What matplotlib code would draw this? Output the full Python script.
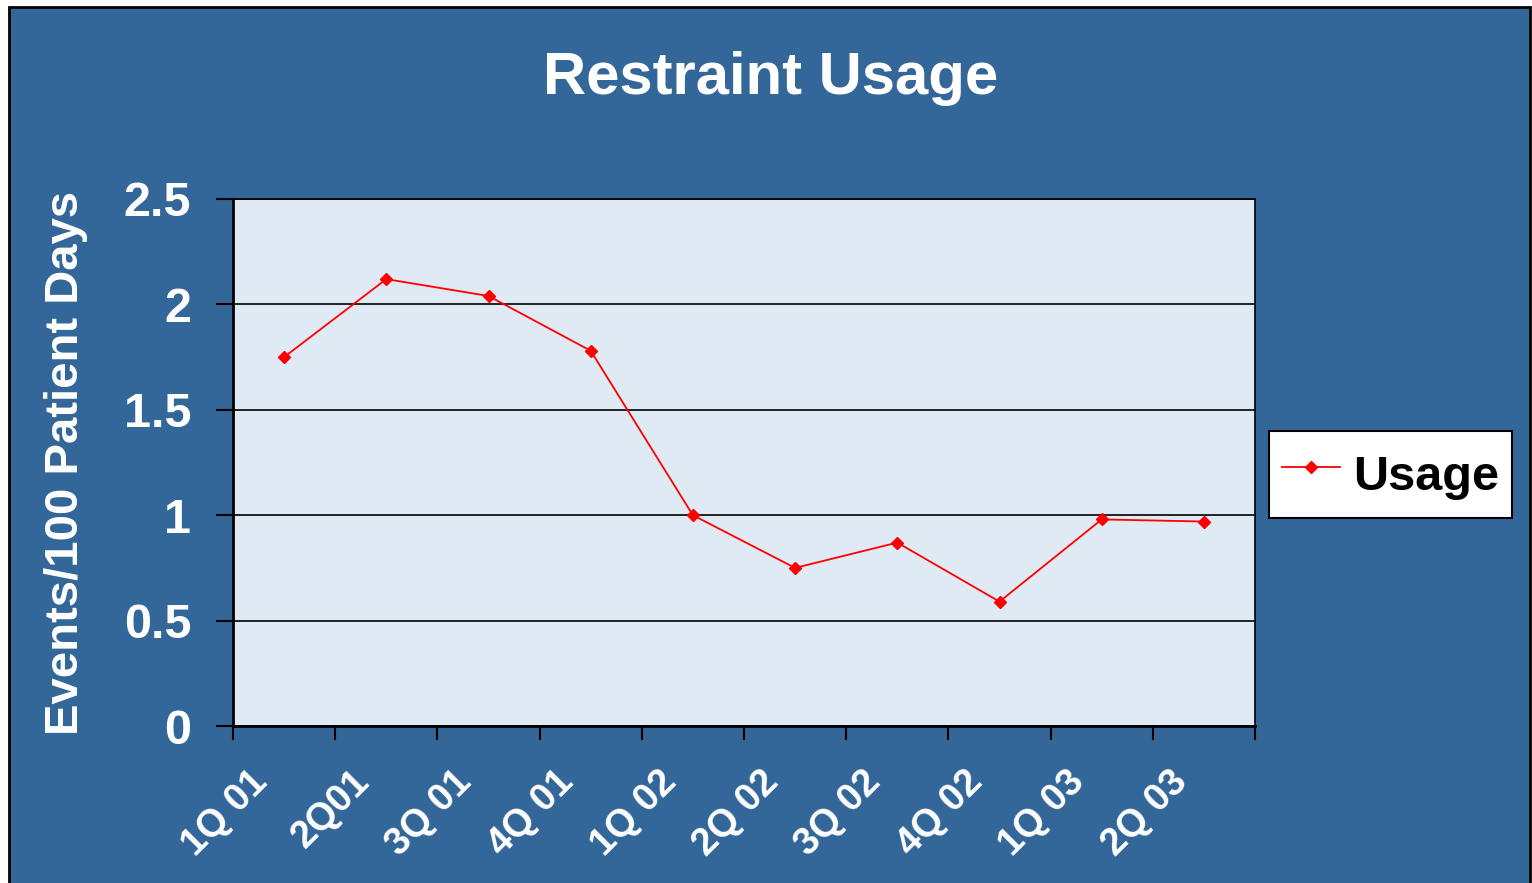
import numpy as np
import matplotlib.pyplot as plt
import matplotlib.transforms as mtransforms
from matplotlib.patches import Rectangle

# Data
quarters = ['1Q 01', '2Q01', '3Q 01', '4Q 01', '1Q 02', '2Q 02', '3Q 02', '4Q 02', '1Q 03', '2Q 03']
usage = [1.75, 2.12, 2.04, 1.78, 1.00, 0.75, 0.87, 0.59, 0.98, 0.97]
y_ticks = [0, 0.5, 1, 1.5, 2, 2.5]
y_tick_labels = ['0', '0.5', '1', '1.5', '2', '2.5']

outer_blue = '#336699'
plot_bg = '#E0EAF4'

plt.rcParams['font.family'] = ['Liberation Sans', 'DejaVu Sans']
plt.rcParams['font.weight'] = 'bold'

fig = plt.figure(figsize=(15.32, 8.83), dpi=100)
fig.patch.set_facecolor('white')

# outer blue panel with black border
W, H = 1532, 883
panel = Rectangle((9 / W, -0.01), (1530 - 9) / W, 1.01 - 7 / H,
                  transform=fig.transFigure, facecolor=outer_blue,
                  edgecolor='black', linewidth=2, zorder=-10)
fig.patches.append(panel)

ax = fig.add_axes([233 / W, 1 - 726 / H, (1255 - 233) / W, (726 - 199) / H])
ax.set_facecolor(plot_bg)

x = np.arange(len(quarters))
ax.plot(x, usage, color='red', linewidth=1.3, marker='D', markersize=6.5,
        label='Usage', zorder=3)

ax.set_xlim(-0.5, len(quarters) - 0.5)
ax.set_ylim(0, 2.5)

# category boundaries as major ticks, labels on minor ticks at centres
ax.set_xticks(np.arange(len(quarters) + 1) - 0.5)
ax.set_xticklabels([])
ax.set_xticks(x, minor=True)
ax.set_xticklabels(quarters, minor=True, rotation=45, ha='right',
                   rotation_mode='anchor', fontsize=27.5, color='white',
                   fontweight='bold')
ax.tick_params(axis='x', which='major', direction='out', length=10,
               width=1.5, color='black')
ax.tick_params(axis='x', which='minor', length=0, pad=27)
offset = mtransforms.ScaledTranslation(-0.35, 0, fig.dpi_scale_trans)
for lbl in ax.get_xticklabels(minor=True):
    lbl.set_transform(lbl.get_transform() + offset)

ax.set_yticks(y_ticks)
ax.set_yticklabels(y_tick_labels, fontsize=35, color='white', fontweight='bold')
ax.tick_params(axis='y', direction='out', length=12, width=1.5, color='black', pad=18)

ax.grid(axis='y', color='black', linewidth=1.2)
ax.set_axisbelow(True)
for side in ['top', 'right']:
    ax.spines[side].set_linewidth(1.2)
for side in ['left', 'bottom']:
    ax.spines[side].set_linewidth(2)

ax.set_ylabel('Events/100 Patient Days', fontsize=34, color='white',
              fontweight='bold', labelpad=26)

fig.text(771 / W, 1 - 78 / H, 'Restraint Usage', fontsize=43, color='white',
         fontweight='bold', ha='center', va='center')

leg = fig.legend(loc='center', bbox_to_anchor=(1390.5 / W, 1 - 474.5 / H),
                 fontsize=35, frameon=True, fancybox=False, handlelength=1.2,
                 handletextpad=0.28, borderpad=0.25, handleheight=1.6,
                 framealpha=1, facecolor='white')
leg.get_frame().set_edgecolor('black')
leg.get_frame().set_linewidth(1.5)
for t in leg.get_texts():
    t.set_fontweight('bold')

fig.savefig('out.png', dpi=100, facecolor=fig.get_facecolor())
